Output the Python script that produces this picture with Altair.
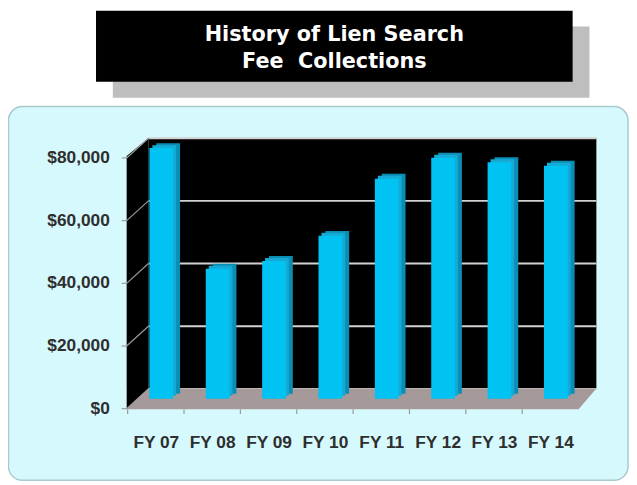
import altair as alt
import pandas as pd

# ---- data ----
years = ["FY 07", "FY 08", "FY 09", "FY 10", "FY 11", "FY 12", "FY 13", "FY 14"]
fees = [80000, 41500, 44000, 52000, 70200, 76900, 75500, 74400]
tick_values = [0, 20000, 40000, 60000, 80000]
tick_labels = ["$0", "$20,000", "$40,000", "$60,000", "$80,000"]
title_lines = ["History of Lien Search", "Fee\u00a0 Collections"]

bars_df = pd.DataFrame({"year": years, "fee": fees})
ticks_df = pd.DataFrame({"v": tick_values, "label": tick_labels})
title_df = pd.DataFrame({"line": title_lines, "row": [0, 1]})
one = pd.DataFrame({"a": [0]})

# ---- scales (shared definitions) ----
YS = alt.Scale(domain=[0, 80000], range=[392.5, 139], nice=False, zero=True)
XS = alt.Scale(domain=years, range=[126.5, 582.5], paddingInner=0, paddingOuter=0)

LABEL_FONT = "Liberation Sans Narrow, Liberation Sans, Arial, sans-serif"
TITLE_FONT = "Verdana, DejaVu Sans, sans-serif"

# ---- decorative frame ----
shadow = alt.Chart(one).mark_rect(color="#BEBEBE").encode(
    x=alt.value(106), x2=alt.value(588), y=alt.value(16), y2=alt.value(88))
title_box = alt.Chart(one).mark_rect(color="#000000").encode(
    x=alt.value(89), x2=alt.value(571), y=alt.value(0), y2=alt.value(72))
title_text = alt.Chart(title_df).mark_text(
    color="white", font=TITLE_FONT, fontWeight="bold", fontSize=21,
    align="center", baseline="middle").encode(
    x=alt.value(330),
    y=alt.Y("row:Q", scale=alt.Scale(domain=[0, 1], range=[25, 52]), axis=None),
    text="line:N")

panel = alt.Chart(one).mark_rect(
    fill="#D6F9FD", stroke="#A9C9CC", strokeWidth=1.5, cornerRadius=14).encode(
    x=alt.value(0.5), x2=alt.value(627), y=alt.value(97), y2=alt.value(475))

back_wall = alt.Chart(one).mark_rect(color="#000000").encode(
    x=alt.value(142), x2=alt.value(595), y=alt.value(129), y2=alt.value(382))

side_df = pd.DataFrame({"x": [120, 142], "y": [147, 129], "y2": [403, 382]})
side_wall = alt.Chart(side_df).mark_area(color="#000000", orient="vertical").encode(
    x=alt.X("x:Q", scale=None, axis=None),
    y=alt.Y("y:Q", scale=None, axis=None), y2="y2")

floor_df = pd.DataFrame({"y": [382, 403], "x": [142, 120], "x2": [595, 577]})
floor = alt.Chart(floor_df).mark_area(color="#A69999", orient="horizontal").encode(
    y=alt.Y("y:Q", scale=None, axis=None),
    x=alt.X("x:Q", scale=None, axis=None), x2="x2")

# ---- gridlines on back wall, slanted ticks on side wall ----
grid = alt.Chart(ticks_df).mark_rule(color="#D2D2D2", strokeWidth=2, yOffset=-10).encode(
    y=alt.Y("v:Q", scale=YS, axis=None), x=alt.value(142), x2=alt.value(595))
slant = alt.Chart(ticks_df).mark_rule(color="#9A9A9A", strokeWidth=1.2,
                                      yOffset=10, y2Offset=-10).encode(
    y=alt.Y("v:Q", scale=YS, axis=None), y2="v", x=alt.value(120), x2=alt.value(142))
small_tick = alt.Chart(ticks_df).mark_rule(color="#9A9A9A", strokeWidth=1.2, yOffset=10).encode(
    y=alt.Y("v:Q", scale=YS, axis=None), x=alt.value(115), x2=alt.value(120))
ylabels = alt.Chart(ticks_df).mark_text(
    align="right", baseline="middle", yOffset=10, font=LABEL_FONT,
    fontWeight="bold", fontSize=17.5, color="#2E2E2E").encode(
    y=alt.Y("v:Q", scale=YS, axis=None), x=alt.value(103), text="label:N")

# x tick marks on floor front edge
xticks = alt.Chart(bars_df).mark_rule(color="#9A9A9A", strokeWidth=1.2, xOffset=-34).encode(
    x=alt.X("year:N", scale=XS, axis=None), y=alt.value(403), y2=alt.value(408))

# ---- bars (pseudo 3D) ----
bar_side = alt.Chart(bars_df).mark_bar(color="#0A8EB6", width=24, xOffset=7, yOffset=-5).encode(
    x=alt.X("year:N", scale=XS, axis=None),
    y=alt.Y("fee:Q", scale=YS, axis=None))
bar_cap = alt.Chart(bars_df).mark_bar(color="#14AAD4", width=24, xOffset=3, yOffset=-3).encode(
    x=alt.X("year:N", scale=XS, axis=None),
    y=alt.Y("fee:Q", scale=YS, axis=None))
bar_front = alt.Chart(bars_df).mark_bar(color="#00C2F3", width=24).encode(
    x=alt.X("year:N", scale=XS, axis=None),
    y=alt.Y("fee:Q", scale=YS, axis=None))

xlabels = alt.Chart(bars_df).mark_text(
    align="center", baseline="middle", dx=-5, font=LABEL_FONT,
    fontWeight="bold", fontSize=17.5, color="#2E2E2E").encode(
    x=alt.X("year:N", scale=XS, axis=None), y=alt.value(437), text="year:N")

chart = alt.layer(
    shadow, title_box, title_text, panel, back_wall, grid, side_wall, slant,
    small_tick, floor, xticks, bar_side, bar_cap, bar_front, ylabels, xlabels
).resolve_scale(
    x="independent", y="independent"
).properties(
    width=628, height=476, autosize="none", padding=0, background="white"
).configure_view(stroke=None)

chart.save("out.html", embed_options={"renderer": "svg", "actions": False})
